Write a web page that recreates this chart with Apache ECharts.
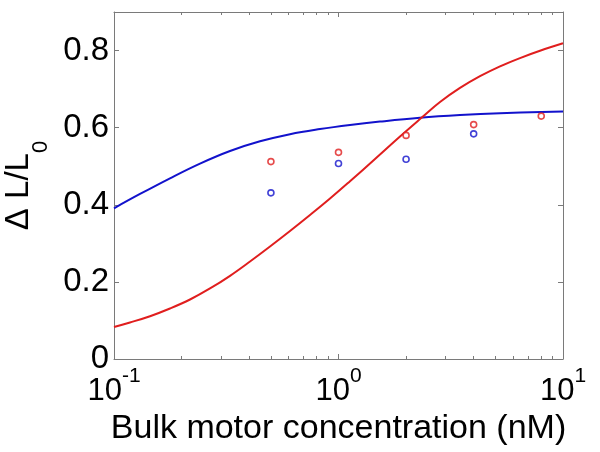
<!DOCTYPE html>
<html><head><meta charset="utf-8">
<script src="https://cdn.jsdelivr.net/npm/echarts@6/dist/echarts.min.js"></script>
<style>html,body{margin:0;padding:0;background:#fff}#c{width:600px;height:452px}</style>
</head><body><div id="c"></div>
<script>
const FONT = '"Liberation Sans", Arial, Helvetica, sans-serif';
const xTicks = [0.1, 1, 10];
const xTickExponents = ['-1', '0', '1'];
const xMinorTicks = [0.2, 0.3, 0.4, 0.5, 0.6, 0.7, 0.8, 0.9, 2, 3, 4, 5, 6, 7, 8, 9];
const yTicks = [0, 0.2, 0.4, 0.6, 0.8];

const redPointConc = [0.5, 1, 2, 4, 8];
const redPoints = [0.512, 0.536, 0.580, 0.608, 0.630];
const bluePointConc = [0.5, 1, 2, 4];
const bluePoints = [0.431, 0.507, 0.518, 0.584];

const redCurveConc = [0.1, 0.1178, 0.1447, 0.1776, 0.2181, 0.2677, 0.3287, 0.4035, 0.4953, 0.6081, 0.7465, 0.9166, 1.1252, 1.4543, 1.8792, 2.3487, 2.8327, 3.4768, 4.2686, 5.2407, 6.4335, 7.899, 10];
const redCurve = [0.0830, 0.0947, 0.1110, 0.1310, 0.1543, 0.1829, 0.2158, 0.2529, 0.2918, 0.3320, 0.3735, 0.4163, 0.4612, 0.5187, 0.5771, 0.6261, 0.6665, 0.7030, 0.7335, 0.7590, 0.7805, 0.7994, 0.8188];
const blueCurveConc = [0.1, 0.1306, 0.1776, 0.2416, 0.3287, 0.4471, 0.6081, 0.8272, 1.1252, 1.5305, 2.3067, 3.4768, 5.2407, 10];
const blueCurve = [0.3909, 0.4280, 0.4687, 0.5068, 0.5395, 0.5646, 0.5831, 0.5963, 0.6069, 0.6157, 0.6256, 0.6326, 0.6375, 0.6422];

const RED = '#e01e1e';
const BLUE = '#1212cc';
const AXIS = '#7a7a7a';

const zip = (xs, ys) => xs.map((x, i) => [x, ys[i]]);

const chart = echarts.init(document.getElementById('c'), null, {renderer: 'canvas'});

const GRID = {left: 114, right: 37, top: 12, bottom: 93, containLabel: false, outerBoundsMode: 'none'};

const baseX = {
  type: 'log', logBase: 10, min: 0.1, max: 10, gridIndex: 0,
  splitLine: {show: false}, minorSplitLine: {show: false}
};
const baseY = {
  type: 'value', min: 0, max: 0.9, interval: 0.2, gridIndex: 0,
  splitLine: {show: false}
};
const minorTickAxis = (pos) => ({
  type: 'value', gridIndex: 1, position: pos,
  min: Math.log10(xTicks[0]), max: Math.log10(xTicks[xTicks.length - 1]),
  axisLine: {show: false, onZero: false},
  axisTick: {show: true, inside: true, length: 3, customValues: xMinorTicks.map(Math.log10), lineStyle: {color: AXIS}},
  axisLabel: {show: false},
  splitLine: {show: false}
});

chart.setOption({
  animation: false,
  backgroundColor: '#fff',
  grid: [Object.assign({}, GRID), Object.assign({}, GRID)],
  xAxis: [
    Object.assign({}, baseX, {
      position: 'bottom',
      axisLine: {show: true, onZero: false, lineStyle: {color: AXIS, width: 1}},
      axisTick: {show: true, inside: true, length: 5, lineStyle: {color: AXIS}},
      axisLabel: {
        show: true, margin: 7,
        formatter: function (v) {
          let idx = 0, best = Infinity;
          xTicks.forEach((t, i) => { const d = Math.abs(Math.log10(t) - Math.log10(v)); if (d < best) { best = d; idx = i; } });
          return '{b|10}{s|' + xTickExponents[idx] + '}';
        },
        rich: {
          b: {fontSize: 31, fontFamily: FONT, color: '#000', lineHeight: 50},
          s: {fontSize: 21, fontFamily: FONT, color: '#000', lineHeight: 20, verticalAlign: 'top'}
        }
      },
      name: 'Bulk motor concentration (nM)',
      nameLocation: 'middle', nameGap: 50,
      nameTextStyle: {fontSize: 34, fontFamily: FONT, color: '#000'}
    }),
    Object.assign({}, baseX, {
      position: 'top',
      axisLine: {show: true, onZero: false, lineStyle: {color: AXIS, width: 1}},
      axisTick: {show: true, inside: true, length: 5, lineStyle: {color: AXIS}},
      axisLabel: {show: false}
    }),
    minorTickAxis('bottom'),
    minorTickAxis('top')
  ],
  yAxis: [
    Object.assign({}, baseY, {
      position: 'left',
      axisLine: {show: true, onZero: false, lineStyle: {color: AXIS, width: 1}},
      axisTick: {show: true, inside: true, length: 5, lineStyle: {color: AXIS}},
      axisLabel: {
        show: true, margin: 5, showMaxLabel: false,
        fontSize: 33, fontFamily: FONT, color: '#000',
        formatter: v => (v === 0 ? '0' : String(Math.round(v * 10) / 10))
      },
      name: '{m|\u0394 L/L}{sub|0}',
      nameLocation: 'middle', nameRotate: 90, nameGap: 56,
      nameTextStyle: {
        rich: {
          m: {fontSize: 33, fontFamily: FONT, color: '#000', lineHeight: 66},
          sub: {fontSize: 22, fontFamily: FONT, color: '#000', lineHeight: 22, verticalAlign: 'bottom'}
        }
      }
    }),
    Object.assign({}, baseY, {
      position: 'right',
      axisLine: {show: true, onZero: false, lineStyle: {color: AXIS, width: 1}},
      axisTick: {show: true, inside: true, length: 5, lineStyle: {color: AXIS}},
      axisLabel: {show: false}
    }),
    {type: 'value', gridIndex: 1, min: 0, max: 1, show: false}
  ],
  series: [
    {
      type: 'line', xAxisIndex: 0, yAxisIndex: 0, data: zip(blueCurveConc, blueCurve),
      showSymbol: false, smooth: 0.4, lineStyle: {color: BLUE, width: 2}, itemStyle: {color: BLUE}, z: 3
    },
    {
      type: 'line', xAxisIndex: 0, yAxisIndex: 0, data: zip(redCurveConc, redCurve),
      showSymbol: false, smooth: 0.4, lineStyle: {color: RED, width: 2}, itemStyle: {color: RED}, z: 3
    },
    {
      type: 'scatter', xAxisIndex: 0, yAxisIndex: 0, data: zip(redPointConc, redPoints),
      symbol: 'circle', symbolSize: 6,
      itemStyle: {color: '#fff', borderColor: RED, borderWidth: 1.6}, z: 4
    },
    {
      type: 'scatter', xAxisIndex: 0, yAxisIndex: 0, data: zip(bluePointConc, bluePoints),
      symbol: 'circle', symbolSize: 6,
      itemStyle: {color: '#fff', borderColor: BLUE, borderWidth: 1.6}, z: 4
    }
  ]
});
</script>
</body></html>
